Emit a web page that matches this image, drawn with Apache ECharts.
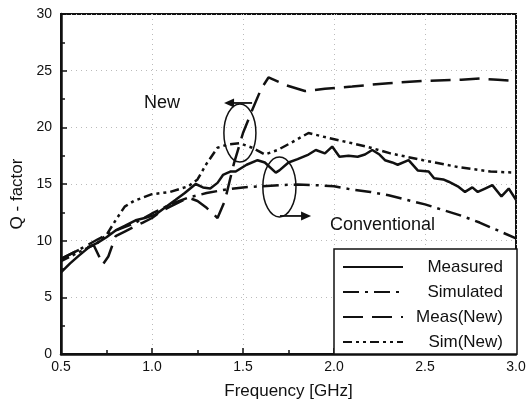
<!DOCTYPE html>
<html>
<head>
<meta charset="utf-8">
<script src="https://cdn.jsdelivr.net/npm/echarts@6/dist/echarts.min.js"></script>
<style>
html, body { margin: 0; padding: 0; background: #fff; }
#chart-panel { width: 529px; height: 405px; }
</style>
</head>
<body>
<div id="chart-panel"></div>
<script>
var seriesNames = ['Measured', 'Simulated', 'Meas(New)', 'Sim(New)'];

// [frequency GHz, Q]
var measured = [
    [0.5, 7.2], [0.55, 8.0], [0.6, 8.7], [0.66, 9.5], [0.7, 9.8], [0.75, 10.3],
    [0.8, 10.9], [0.85, 11.3], [0.91, 11.8], [0.96, 12.0], [1.02, 12.3], [1.07, 12.9],
    [1.13, 13.6], [1.18, 14.2], [1.24, 15.0], [1.28, 14.7], [1.32, 14.6], [1.36, 15.1],
    [1.39, 15.8], [1.43, 16.1], [1.46, 16.1], [1.52, 16.7], [1.58, 17.1], [1.62, 16.9],
    [1.68, 16.0], [1.70, 16.2], [1.75, 16.9], [1.80, 17.2], [1.86, 17.6], [1.90, 18.0],
    [1.95, 17.7], [1.99, 18.3], [2.03, 17.4], [2.08, 17.5], [2.13, 17.4], [2.17, 17.6],
    [2.21, 18.0], [2.25, 17.6], [2.28, 17.1], [2.32, 16.9], [2.35, 16.7], [2.41, 17.1],
    [2.46, 16.2], [2.52, 16.1], [2.55, 15.5], [2.60, 15.4], [2.63, 15.2], [2.68, 14.8],
    [2.72, 14.3], [2.76, 14.7], [2.79, 14.3], [2.83, 14.6], [2.87, 14.9], [2.92, 13.9],
    [2.96, 14.6], [3.0, 13.6]
];
var simulated = [
    [0.5, 8.4], [0.6, 9.2], [0.7, 10.1], [0.8, 10.9], [0.9, 11.5], [1.0, 12.4],
    [1.1, 13.2], [1.2, 13.8], [1.3, 14.2], [1.4, 14.5], [1.5, 14.7], [1.6, 14.8],
    [1.7, 14.9], [1.8, 14.95], [1.9, 14.9], [2.0, 14.8], [2.1, 14.5], [2.2, 14.3],
    [2.3, 14.0], [2.4, 13.6], [2.5, 13.2], [2.6, 12.7], [2.7, 12.2], [2.8, 11.6],
    [2.9, 10.9], [3.0, 10.2]
];
var measNew = [
    [0.5, 8.4], [0.6, 9.2], [0.68, 9.6], [0.73, 7.9], [0.76, 8.6], [0.8, 10.4],
    [0.85, 10.8], [0.9, 11.2], [0.95, 11.6], [1.0, 12.0], [1.05, 12.6], [1.1, 13.0],
    [1.15, 13.4], [1.2, 13.8], [1.25, 13.5], [1.3, 12.9], [1.36, 12.0], [1.4, 13.5],
    [1.45, 16.8], [1.5, 19.5], [1.55, 21.5], [1.6, 23.4], [1.64, 24.4], [1.74, 23.7],
    [1.84, 23.2], [1.95, 23.4], [2.1, 23.6], [2.3, 23.9], [2.5, 24.1], [2.7, 24.2],
    [2.8, 24.3], [2.9, 24.2], [3.0, 24.1]
];
var simNew = [
    [0.5, 8.2], [0.6, 9.0], [0.7, 9.8], [0.75, 10.5], [0.8, 11.8], [0.85, 13.0],
    [0.9, 13.5], [0.95, 13.8], [1.0, 14.1], [1.1, 14.3], [1.2, 14.8], [1.25, 15.4],
    [1.3, 16.8], [1.36, 18.2], [1.42, 18.5], [1.48, 18.6], [1.55, 18.2], [1.62, 17.6],
    [1.69, 18.0], [1.76, 18.6], [1.86, 19.5], [1.96, 19.1], [2.07, 18.7], [2.18, 18.3],
    [2.31, 17.7], [2.49, 17.1], [2.68, 16.5], [2.86, 16.1], [3.0, 16.0]
];

var font = 'Liberation Sans, Arial, Helvetica, sans-serif';
var ink = '#111';

function lineSeries(name, data, dash) {
    return {
        name: name,
        type: 'line',
        data: data,
        symbol: 'none',
        color: ink,
        lineStyle: { color: ink, width: 2.5, type: dash }
    };
}

option = {
    animation: false,
    backgroundColor: '#fff',
    grid: {
        left: 61, right: 13, top: 14, bottom: 51,
        show: true, borderColor: ink, borderWidth: 2
    },
    legend: {
        orient: 'vertical',
        left: 334, top: 249,
        padding: [8, 14, 2, 8],
        itemWidth: 60, itemHeight: 14, itemGap: 5,
        backgroundColor: '#fff',
        borderColor: ink, borderWidth: 1.5,
        data: seriesNames,
        itemStyle: { opacity: 0 },
        formatter: '{a|{name}}',
        textStyle: {
            color: ink, fontFamily: font, fontSize: 17, lineHeight: 20,
            rich: { a: { width: 95, align: 'right', fontSize: 17, fontFamily: font, color: ink } }
        }
    },
    xAxis: {
        type: 'value',
        min: 0.5, max: 3.0, interval: 0.5,
        name: 'Frequency [GHz]',
        nameLocation: 'middle', nameGap: 29,
        nameTextStyle: { color: ink, fontFamily: font, fontSize: 17 },
        axisLine: { show: true, lineStyle: { color: ink, width: 2.5 } },
        axisTick: { show: true, inside: true, length: 6, lineStyle: { color: ink, width: 1.5 } },
        minorTick: { show: true, splitNumber: 2, length: 4, lineStyle: { color: ink, width: 1.5 } },
        axisLabel: {
            color: ink, fontFamily: font, fontSize: 14, margin: 6,
            formatter: function (v) { return v.toFixed(1); }
        },
        splitLine: { show: true, lineStyle: { color: '#bbb', type: [1, 4], width: 1 } }
    },
    yAxis: {
        type: 'value',
        min: 0, max: 30, interval: 5,
        name: 'Q - factor',
        nameLocation: 'middle', nameGap: 35,
        nameTextStyle: { color: ink, fontFamily: font, fontSize: 17, padding: [0, 20, 0, 0] },
        axisLine: { show: true, lineStyle: { color: ink, width: 2.5 } },
        axisTick: { show: true, inside: true, length: 6, lineStyle: { color: ink, width: 1.5 } },
        minorTick: { show: true, splitNumber: 2, length: 4, lineStyle: { color: ink, width: 1.5 } },
        axisLabel: { color: ink, fontFamily: font, fontSize: 14, margin: 9 },
        splitLine: { show: true, lineStyle: { color: '#bbb', type: [1, 4], width: 1 } }
    },
    series: [
        lineSeries(seriesNames[0], measured, 'solid'),
        lineSeries(seriesNames[1], simulated, [16, 6, 3, 6]),
        lineSeries(seriesNames[2], measNew, [20, 9]),
        lineSeries(seriesNames[3], simNew, [9, 4, 3, 4, 3, 4])
    ]
};

var myChart = echarts.init(document.getElementById('chart-panel'));
myChart.setOption(option);

// annotations, placed in data coordinates
function px(x, y) {
    return myChart.convertToPixel({ gridIndex: 0 }, [x, y]);
}
function ellipse(cx, cy, dx, dy) {
    var c = px(cx, cy), e = px(cx + dx, cy + dy);
    return {
        type: 'ellipse',
        shape: { cx: c[0], cy: c[1], rx: Math.abs(e[0] - c[0]), ry: Math.abs(e[1] - c[1]) },
        style: { fill: 'none', stroke: ink, lineWidth: 1.5 },
        z: 100
    };
}
function arrow(x0, x1, y) {
    var a = px(x0, y), b = px(x1, y);
    var d = b[0] > a[0] ? 1 : -1;
    return [{
        type: 'line',
        shape: { x1: a[0], y1: a[1], x2: b[0] - d * 6, y2: b[1] },
        style: { stroke: ink, lineWidth: 1.8 },
        z: 100
    }, {
        type: 'polygon',
        shape: { points: [[b[0], b[1]], [b[0] - d * 10, b[1] - 4.5], [b[0] - d * 10, b[1] + 4.5]] },
        style: { fill: ink },
        z: 100
    }];
}
function label(text, x, y, align) {
    var p = px(x, y);
    return {
        type: 'text', x: p[0], y: p[1],
        style: { text: text, fill: ink, font: '18px ' + font, textAlign: align, textVerticalAlign: 'middle' },
        z: 100
    };
}

var graphics = [
    ellipse(1.483, 19.5, 0.088, 2.56),
    ellipse(1.70, 14.74, 0.091, 2.65),
    label('New', 1.055, 22.15, 'center'),
    label('Conventional', 1.978, 11.4, 'left')
].concat(arrow(1.55, 1.396, 22.15)).concat(arrow(1.703, 1.874, 12.18));

myChart.setOption({ graphic: graphics });
</script>
</body>
</html>
